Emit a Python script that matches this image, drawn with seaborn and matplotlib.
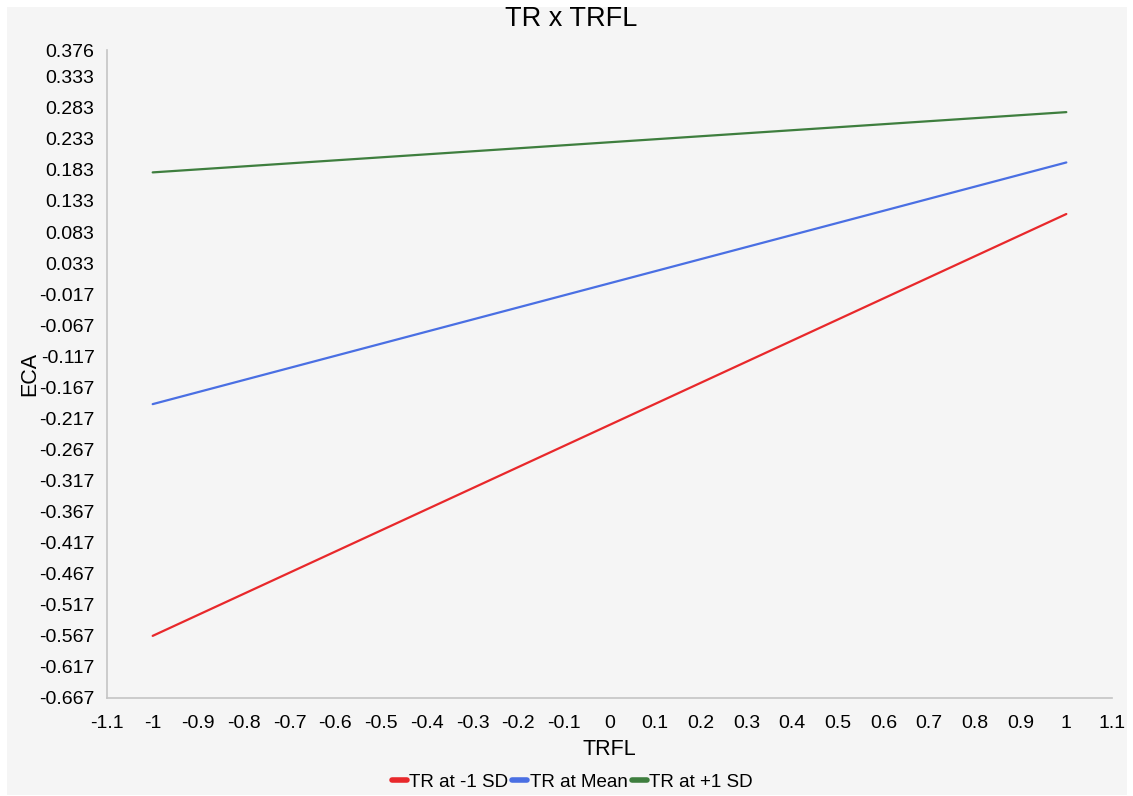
import numpy as np
import pandas as pd
import matplotlib
matplotlib.use('Agg')
import matplotlib.pyplot as plt
import seaborn as sns
from matplotlib.patches import Rectangle

# simple slopes values
trfl = [-1, 1]
low_sd = [-0.567, 0.112]
at_mean = [-0.194, 0.195]
high_sd = [0.179, 0.276]
series_names = ['TR at -1 SD', 'TR at Mean', 'TR at +1 SD']
colors = ['#e8282b', '#4a6fe3', '#3e7e3e']

x_ticks = [-1.1, -1, -0.9, -0.8, -0.7, -0.6, -0.5, -0.4, -0.3, -0.2, -0.1,
           0, 0.1, 0.2, 0.3, 0.4, 0.5, 0.6, 0.7, 0.8, 0.9, 1, 1.1]
y_ticks = [0.376, 0.333, 0.283, 0.233, 0.183, 0.133, 0.083, 0.033, -0.017,
           -0.067, -0.117, -0.167, -0.217, -0.267, -0.317, -0.367, -0.417,
           -0.467, -0.517, -0.567, -0.617, -0.667]

df = pd.DataFrame({
    'TRFL': trfl * 3,
    'ECA': low_sd + at_mean + high_sd,
    'series': [s for s in series_names for _ in trfl],
})

sns.set_style('white')
plt.rcParams['font.family'] = ['Liberation Sans', 'DejaVu Sans']
plt.rcParams['text.color'] = 'black'
plt.rcParams['axes.labelcolor'] = 'black'

fig = plt.figure(figsize=(11.33, 7.96), dpi=100, facecolor='white')
fig.add_artist(Rectangle((7 / 1133, 1 / 796), 1120 / 1133, 788 / 796,
                         transform=fig.transFigure, facecolor='#f5f5f5',
                         edgecolor='none', zorder=-10))
ax = fig.add_axes([107 / 1133, 1 - 698 / 796, (1112 - 107) / 1133, (698 - 50) / 796])
ax.set_facecolor('#f5f5f5')

sns.lineplot(data=df, x='TRFL', y='ECA', hue='series', palette=colors,
             linewidth=1.6, ax=ax, legend=True)

ax.set_xlim(-1.1, 1.1)
ax.set_ylim(-0.667, 0.376)
ax.set_xticks(x_ticks)
ax.set_xticklabels([f'{v:g}' for v in x_ticks])
ax.set_yticks(y_ticks)
ax.set_yticklabels([f'{v:.3f}' for v in y_ticks])
for s in ['top', 'right']:
    ax.spines[s].set_visible(False)
for s in ['left', 'bottom']:
    ax.spines[s].set_color('#c4c4c4')
    ax.spines[s].set_linewidth(1.2)
ax.tick_params(axis='both', length=8, width=1.2, color='#c4c4c4',
               labelsize=14, labelcolor='black')
ax.tick_params(axis='y', pad=1)
ax.tick_params(axis='x', pad=4)

ax.set_xlabel('TRFL', fontsize=15.5, labelpad=5)
ax.set_ylabel('ECA', fontsize=15.5, labelpad=-1)
# title sits over the middle of the whole panel, not the plot area
ax.set_title('TR x TRFL', fontsize=19.5, pad=17, x=0.462)

handles, labels = ax.get_legend_handles_labels()
ax.legend(handles, labels, loc='center', bbox_to_anchor=(0.463, -0.13),
          ncol=3, frameon=False, fontsize=13.5, handlelength=0.8,
          handletextpad=0.15, columnspacing=0.2)
for line in ax.get_legend().get_lines():
    line.set_linewidth(4)

fig.savefig('out.png', dpi=100, facecolor='white')
